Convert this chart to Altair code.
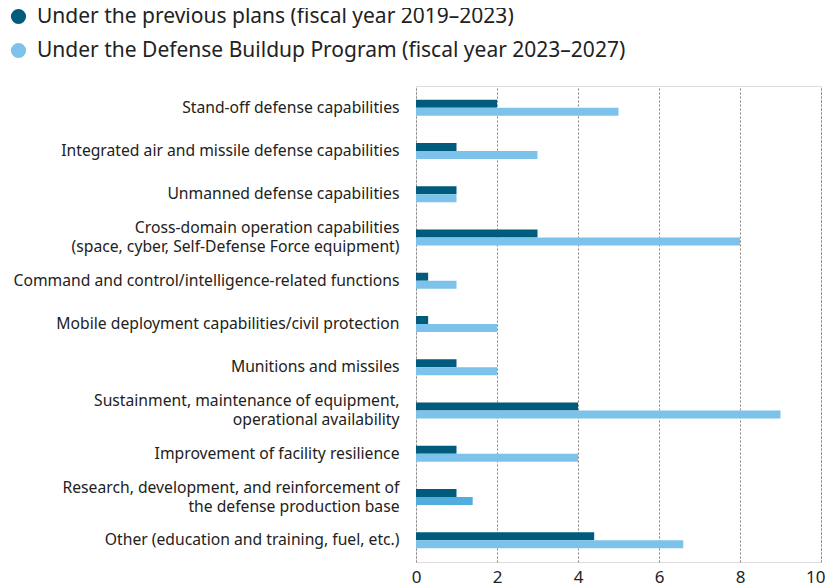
import altair as alt
import pandas as pd

categories = [
    "Stand-off defense capabilities",
    "Integrated air and missile defense capabilities",
    "Unmanned defense capabilities",
    "Cross-domain operation capabilities |(space, cyber, Self-Defense Force equipment)",
    "Command and control/intelligence-related functions",
    "Mobile deployment capabilities/civil protection",
    "Munitions and missiles",
    "Sustainment, maintenance of equipment, |operational availability",
    "Improvement of facility resilience",
    "Research, development, and reinforcement of |the defense production base",
    "Other (education and training, fuel, etc.)",
]
previous_plans = [2.0, 1.0, 1.0, 3.0, 0.3, 0.3, 1.0, 4.0, 1.0, 1.0, 4.4]
buildup_program = [5.0, 3.0, 1.0, 8.0, 1.0, 2.0, 2.0, 9.0, 4.0, 1.4, 6.6]
series_names = [
    "Under the previous plans (fiscal year 2019\u20132023)",
    "Under the Defense Buildup Program (fiscal year 2023\u20132027)",
]
x_ticks = [0, 2, 4, 6, 8, 10]

rows = []
for c, a, b in zip(categories, previous_plans, buildup_program):
    rows.append({"category": c, "series": series_names[0], "value": a})
    rows.append({"category": c, "series": series_names[1], "value": b})
df = pd.DataFrame(rows)

FONT = "Noto Sans"

color_scale = alt.Scale(domain=series_names, range=["#005B7D", "#7DC2EA"])

highlight = (alt.datum.category == categories[9]) & (alt.datum.series == series_names[1])

chart = (
    alt.Chart(df)
    .mark_bar(size=8)
    .encode(
        y=alt.Y(
            "category:N",
            sort=categories,
            title=None,
            scale=alt.Scale(paddingInner=0.63, paddingOuter=0.315),
            axis=alt.Axis(
                labelExpr="split(datum.label, '|')",
                labelFontSize=15.7,
                labelColor="#222222",
                labelFont=FONT,
                labelPadding=17,
                labelLimit=0,
                labelLineHeight=19,
                labelOffset={"expr": "indexof(datum.value, '|') >= 0 ? -9.5 : 0"},
                ticks=False,
                domain=False,
                grid=False,
            ),
        ),
        yOffset=alt.YOffset("series:N", sort=series_names, scale=alt.Scale(padding=0)),
        x=alt.X(
            "value:Q",
            title=None,
            scale=alt.Scale(domain=[0, 10], nice=False),
            axis=alt.Axis(
                values=x_ticks,
                labelFontSize=17,
                labelFont=FONT,
                labelColor="#222222",
                labelPadding=7,
                labelFlush=False,
                labelAlign={"expr": "datum.value == 10 ? 'right' : 'center'"},
                labelOffset={"expr": "datum.value == 10 ? 4 : 0"},
                ticks=False,
                domain=False,
                grid=True,
                gridColor="#8a817b",
                gridDash=[2, 2],
                gridWidth=1,
                orient="bottom",
            ),
        ),
        color=alt.condition(
            highlight,
            alt.value("#52ADDF"),
            alt.Color(
                "series:N",
                scale=color_scale,
                sort=series_names,
                legend=alt.Legend(
                    title=None,
                    orient="none",
                    legendX=-408,
                    legendY=-80,
                    direction="vertical",
                    symbolType="circle",
                    symbolSize=230,
                    symbolStrokeWidth=0,
                    labelFontSize=21,
                    labelFont=FONT,
                    labelColor="#222222",
                    labelLimit=0,
                    rowPadding=12,
                    padding=0,
                    labelOffset=8,
                ),
            ),
        ),
    )
    .properties(
        width=405,
        height=476,
        padding={"left": 408, "top": 78, "right": 4, "bottom": 30},
        autosize=alt.AutoSizeParams(type="none"),
    )
    .configure_view(stroke=None)
    .configure(font=FONT)
)

chart.save("out.html", embed_options={"renderer": "svg", "actions": False})
